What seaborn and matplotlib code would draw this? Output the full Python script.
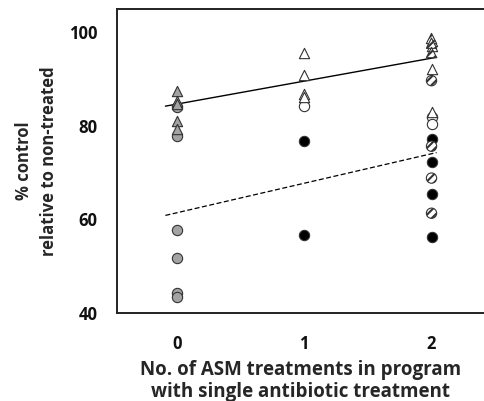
import matplotlib
matplotlib.use("Agg")
import matplotlib.pyplot as plt
import seaborn as sns
import pandas as pd
import numpy as np

# ---- data ----
gray_tri_x = [0, 0, 0, 0, 0]
gray_tri_y = [87.5, 85.2, 84.6, 81.0, 79.2]
gray_circ_x = [0, 0, 0, 0, 0, 0]
gray_circ_y = [84.0, 77.8, 57.8, 51.8, 44.3, 43.5]

white_tri_x = [1, 1, 1, 1, 2, 2, 2, 2]
white_tri_y = [95.5, 90.8, 86.8, 86.2, 98.0, 96.9, 92.0, 83.0]
white_circ_x = [1, 2, 2]
white_circ_y = [84.2, 81.8, 80.4]

black_circ_x = [1, 1, 2, 2, 2, 2]
black_circ_y = [76.7, 56.6, 77.2, 72.3, 65.5, 56.3]

hatch_tri_x = [2, 2, 2]
hatch_tri_y = [98.6, 97.6, 95.6]
hatch_circ_x = [2, 2, 2, 2]
hatch_circ_y = [89.6, 75.6, 68.8, 61.3]

# fitted trend lines: intercept, slope, x-range
solid_fit = (84.6, 4.9)
dashed_fit = (61.4, 6.3)
line_x = [-0.09, 2.04]

xticks = [0, 1, 2]
yticks = [40, 60, 80, 100]
xlabel = "No. of ASM treatments in program\nwith single antibiotic treatment"
ylabel = "% control\nrelative to non-treated"

# ---- plotting ----
sns.set_style("white")
plt.rcParams['font.family'] = ['Open Sans', 'DejaVu Sans']
plt.rcParams['hatch.linewidth'] = 1.5
plt.rcParams['hatch.color'] = '#333333'

fig = plt.figure(figsize=(4.85, 4.01), dpi=100)
ax = fig.add_axes([117/485, 1-313/401, 1-117/485, (313-9)/401])

ms = 55
edge = '#333333'

def scat(xs, ys, marker, face, hatch=None):
    df = pd.DataFrame({"x": xs, "y": ys})
    before = len(ax.collections)
    sns.scatterplot(data=df, x="x", y="y", marker=marker, s=ms, color=face,
                    edgecolor=edge, linewidth=0.8, ax=ax, zorder=3)
    if hatch:
        for c in ax.collections[before:]:
            c.set_hatch(hatch)

lx = np.array(line_x)
sns.lineplot(x=lx, y=solid_fit[0] + solid_fit[1]*lx, color='black', linewidth=1.0, ax=ax, zorder=2)
sns.lineplot(x=lx, y=dashed_fit[0] + dashed_fit[1]*lx, color='black', linewidth=0.9,
             linestyle=(0, (4, 2)), ax=ax, zorder=2)

scat(gray_circ_x, gray_circ_y, 'o', '#a3a3a3')
scat(gray_tri_x, gray_tri_y, '^', '#a3a3a3')
scat(white_circ_x, white_circ_y, 'o', 'white')
scat(white_tri_x, white_tri_y, '^', 'white')
scat(black_circ_x, black_circ_y, 'o', 'black')
scat(hatch_circ_x, hatch_circ_y, 'o', 'white', hatch='////')
scat(hatch_tri_x, hatch_tri_y, '^', 'white', hatch='////')

ax.set_xlim(-0.47, 2.42)
ax.set_ylim(40, 104.9)
ax.set_xticks(xticks)
ax.set_yticks(yticks)
ax.set_xticklabels([str(t) for t in xticks], fontweight='bold', fontsize=12)
ax.set_yticklabels([str(t) for t in yticks], fontweight='bold', fontsize=12)
ax.tick_params(axis='y', direction='in', length=4, width=1, pad=14, colors='black')
ax.tick_params(axis='x', length=0, pad=16, colors='black')
for t in ax.get_xticklabels() + ax.get_yticklabels():
    t.set_color('#111111')

ax.set_xlabel(xlabel, fontweight='bold', fontsize=13.5, labelpad=5, linespacing=1.15)
ax.set_ylabel(ylabel, fontweight='bold', fontsize=12, labelpad=8, linespacing=1.5)

for side in ['left', 'top', 'bottom']:
    ax.spines[side].set_color('#222222')
    ax.spines[side].set_linewidth(1.4)
ax.spines['right'].set_visible(False)

fig.savefig("out.png", dpi=100)
